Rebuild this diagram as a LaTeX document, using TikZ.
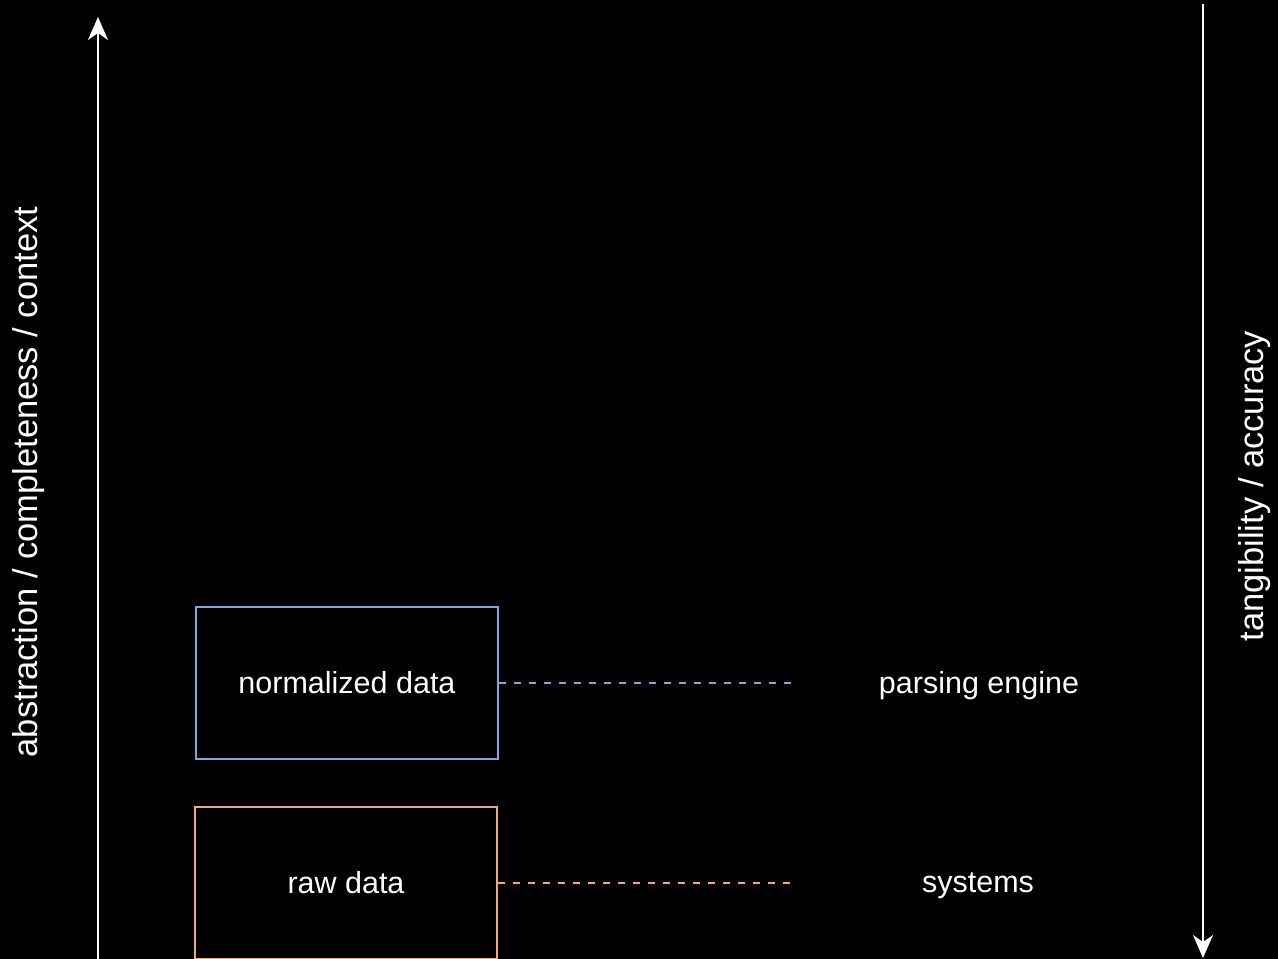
\documentclass[tikz,border=0pt]{standalone}
\usepackage{fontspec}
\setmainfont{Liberation Sans}
\usetikzlibrary{arrows.meta}
\definecolor{bluebox}{RGB}{126,166,224}
\definecolor{orangebox}{RGB}{240,168,118}
\tikzset{
  axis/.style={white, line width=2pt, -{Stealth[length=23pt,width=20pt,inset=7pt]}},
  layer/.style={draw, line width=2pt, fill=black, minimum width=302pt, text=white, font=\fontsize{30.5}{36}\selectfont},
  tag/.style={text=white, font=\fontsize{30.5}{36}\selectfont},
  axislabel/.style={text=white, rotate=90, font=\fontsize{34.5}{40}\selectfont},
  link/.style={line width=2pt, dash pattern=on 7pt off 8pt}
}
\begin{document}
\begin{tikzpicture}[x=1pt,y=-1pt]
  \fill[black] (0,0) rectangle (1278,959);
  \useasboundingbox (0,0) rectangle (1278,959);

  % vertical axes
  \coordinate (upstart) at (98,962);
  \coordinate (upend) at (98,17);
  \coordinate (downstart) at (1203,4);
  \coordinate (downend) at (1203,958);
  \draw[axis] (upstart) -- (upend);
  \draw[axis] (downstart) -- (downend);

  \node[axislabel] (abstr) at (29,482) {abstraction / completeness / context};
  \node[axislabel] (tang) at (1255,486) {tangibility / accuracy};

  % layers
  \node[layer, draw=bluebox, minimum height=152pt] (norm) at (347,683) {normalized data};
  \node[layer, draw=orangebox, minimum height=152pt] (raw) at (346,883) {raw data};

  % producers
  \node[tag] (parse) at (979,686) {parsing engine};
  \node[tag] (sys) at (978,886) {systems};

  \coordinate (parseend) at (793,683);
  \coordinate (sysend) at (793,883);
  \draw[link, bluebox] (norm.east) -- (parseend);
  \draw[link, orangebox] (raw.east) -- (sysend);
\end{tikzpicture}
\end{document}
